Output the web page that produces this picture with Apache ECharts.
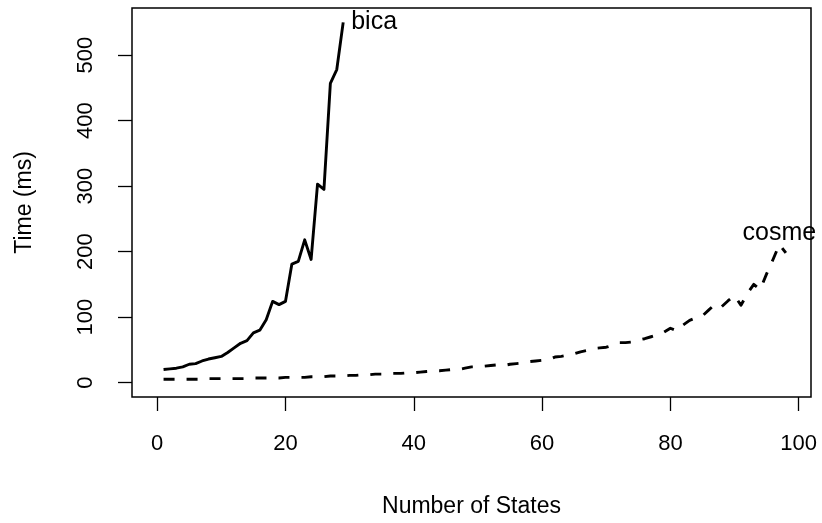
<!DOCTYPE html>
<html>
<head>
<meta charset="utf-8">
<script src="https://cdn.jsdelivr.net/npm/echarts@6/dist/echarts.min.js"></script>
<style>html,body{margin:0;padding:0;background:#fff;}#c{width:822px;height:523px;}</style>
</head>
<body>
<div id="c"></div>
<script>
// Data
const bicaX = [1,2,3,4,5,6,7,8,9,10,11,12,13,14,15,16,17,18,19,20,21,22,23,24,25,26,27,28,29];
const bicaY = [20,21,22,24,28,29,33,36,38,40,46,53,60,64,76,80,96,124,119,124,181,185,218,188,303,295,457,478,550];
const cosmeY = [5,5,5,5,5,5,5,6,6,6,6,6,6,6,7,7,7,7,7,8,8,8,8,9,9,9,10,10,10,11,
  11,12,12,13,13,14,14,14,15,15,16,17,18,18,19,20,20,22,24,24,25,26,27,26,28,29,30,32,33,34,
  35,39,40,42,44,47,49,52,53,54,57,61,61,62,65,67,70,73,77,83,79,88,95,99,102,111,120,116,125,133,
  118,136,150,142,166,188,211,198];
const xTicks = [0,20,40,60,80,100];
const yTicks = [0,100,200,300,400,500];
const xTitle = 'Number of States';
const yTitle = 'Time (ms)';
const seriesNames = ['bica','cosme'];

const bicaData = bicaX.map((x,i)=>[x,bicaY[i]]);
const cosmeData = cosmeY.map((y,i)=>[i+1,y]);
const cosmePeak = cosmeY.indexOf(Math.max(...cosmeY));

const FONT = 'Liberation Sans';
const chart = echarts.init(document.getElementById('c'), null, {renderer:'canvas'});
chart.setOption({
  animation:false,
  backgroundColor:'#fff',
  grid:{left:132,top:8,right:11,bottom:125,show:true,borderColor:'#000',borderWidth:1.5,backgroundColor:'transparent'},
  xAxis:{
    type:'value', min:-3.92, max:101.92,
    axisLine:{show:false,onZero:false},
    splitLine:{show:false},
    axisTick:{show:true,length:14,lineStyle:{color:'#000',width:1.3},customValues:xTicks},
    axisLabel:{color:'#000',fontFamily:FONT,fontSize:22,margin:36,customValues:xTicks},
    name:xTitle, nameLocation:'middle', nameGap:98,
    nameTextStyle:{color:'#000',fontFamily:FONT,fontSize:23}
  },
  yAxis:{
    type:'value', min:-22, max:572,
    axisLine:{show:false,onZero:false},
    splitLine:{show:false},
    axisTick:{show:true,length:14,lineStyle:{color:'#000',width:1.3},customValues:yTicks},
    axisLabel:{color:'#000',fontFamily:FONT,fontSize:22,margin:46,rotate:90,customValues:yTicks,align:'center',verticalAlign:'middle'},
    name:yTitle, nameLocation:'middle', nameGap:96, nameRotate:90,
    nameTextStyle:{color:'#000',fontFamily:FONT,fontSize:23}
  },
  series:[
    {type:'line',name:seriesNames[0],data:bicaData,showSymbol:false,symbol:'none',
     lineStyle:{color:'#000',width:2.9,cap:'butt',join:'round'},
     endLabel:{show:true,formatter:seriesNames[0],color:'#000',fontFamily:FONT,fontSize:25,distance:8}
    },
    {type:'line',name:seriesNames[1],data:cosmeData,showSymbol:false,symbol:'none',
     lineStyle:{color:'#000',width:2.9,type:[11,12],cap:'butt',join:'round'}
    },
    {type:'scatter',data:[cosmeData[cosmePeak]],symbol:'circle',symbolSize:1,
     itemStyle:{color:'rgba(0,0,0,0)'},silent:true,
     label:{show:true,position:'top',formatter:seriesNames[1],distance:2,offset:[0,4],color:'#000',opacity:1,fontFamily:FONT,fontSize:25}
    }
  ]
});
</script>
</body>
</html>
